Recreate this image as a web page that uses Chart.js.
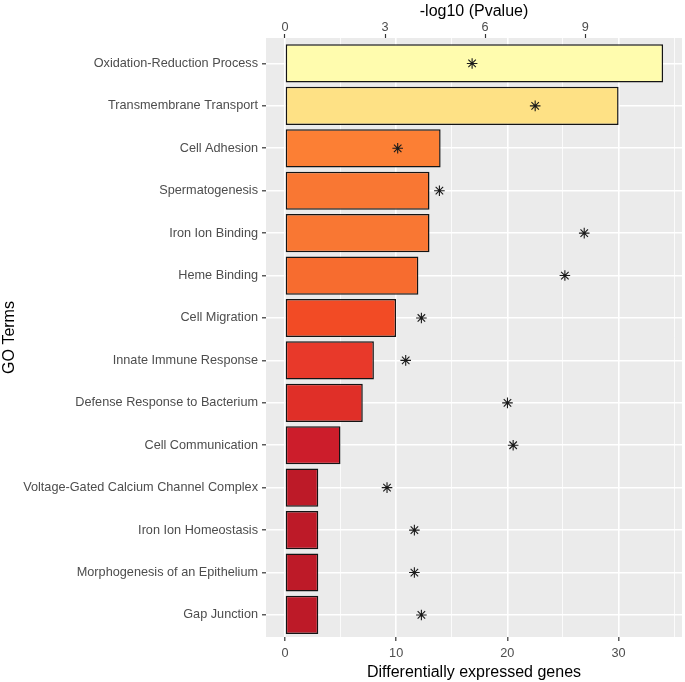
<!DOCTYPE html>
<html><head><meta charset="utf-8">
<script src="https://cdn.jsdelivr.net/npm/chart.js@4"></script>
<style>html,body{margin:0;padding:0;background:#fff}#wrap{width:685px;height:682px}</style>
</head><body><div id="wrap"><canvas id="c" width="685" height="682"></canvas></div>
<script>
const categories = [
  'Oxidation-Reduction Process',
  'Transmembrane Transport',
  'Cell Adhesion',
  'Spermatogenesis',
  'Iron Ion Binding',
  'Heme Binding',
  'Cell Migration',
  'Innate Immune Response',
  'Defense Response to Bacterium',
  'Cell Communication',
  'Voltage-Gated Calcium Channel Complex',
  'Iron Ion Homeostasis',
  'Morphogenesis of an Epithelium',
  'Gap Junction'
];
const genes = [34, 30, 14, 13, 13, 12, 10, 8, 7, 5, 3, 3, 3, 3];
const pvalues = [5.61, 7.50, 3.38, 4.63, 8.97, 8.39, 4.09, 3.62, 6.67, 6.84, 3.06, 3.88, 3.88, 4.09];
const barColors = ['#FFFCAE', '#FEE185', '#FC7F34', '#F97733', '#F97733', '#F76C2F', '#F24B25', '#E8392A', '#E02F28', '#CC1D2B', '#BD1A28', '#BD1A28', '#BD1A28', '#BD1A28'];
const geneTicks = [0, 10, 20, 30];
const geneMinorTicks = [5, 15, 25, 35];
const pTicks = [0, 3, 6, 9];
const geneMin = -1.7, geneMax = 35.7;
const pRatio = 3;
const catExpandTop = 0.6, catExpandBottom = 0.52;

Chart.defaults.font.family = "'Liberation Sans', Arial, sans-serif";

const panelBg = {
  id: 'panelBg',
  beforeDraw(chart) {
    const { ctx, chartArea: a } = chart;
    ctx.save();
    ctx.fillStyle = '#EBEBEB';
    ctx.fillRect(a.left, a.top, a.right - a.left, a.bottom - a.top);
    ctx.restore();
  }
};

const isMajor = v => geneTicks.includes(v);

new Chart(document.getElementById('c'), {
  data: {
    datasets: [
      {
        type: 'line',
        indexAxis: 'y',
        data: pvalues.map((p, i) => ({ x: p, y: i })),
        xAxisID: 'x2',
        yAxisID: 'y',
        showLine: false,
        pointStyle: 'star',
        pointRadius: 5.3,
        pointBorderColor: '#1a1a1a',
        pointBackgroundColor: '#1a1a1a',
        pointBorderWidth: 1.1,
        order: 0
      },
      {
        type: 'bar',
        indexAxis: 'y',
        data: genes.map((g, i) => ({ x: g, y: i })),
        xAxisID: 'x',
        yAxisID: 'y',
        backgroundColor: barColors,
        borderColor: '#141414',
        borderWidth: 1.5,
        borderSkipped: false,
        barPercentage: 0.9,
        categoryPercentage: 1,
        order: 1
      }
    ]
  },
  options: {
    indexAxis: 'y',
    responsive: false,
    animation: false,
    devicePixelRatio: 1,
    layout: { autoPadding: false, padding: { left: 0, right: 3, top: 0, bottom: 0 } },
    plugins: { legend: { display: false }, tooltip: { enabled: false } },
    scales: {
      x: {
        type: 'linear',
        position: 'bottom',
        min: geneMin,
        max: geneMax,
        afterBuildTicks(s) {
          s.ticks = [...geneTicks, ...geneMinorTicks].sort((a, b) => a - b).map(v => ({ value: v }));
        },
        ticks: {
          callback: v => isMajor(v) ? String(v) : '',
          color: '#4D4D4D',
          font: { size: 12.7 },
          padding: 5,
          maxRotation: 0,
          autoSkip: false
        },
        grid: {
          color: '#FFFFFF',
          lineWidth: c => (c.tick && isMajor(c.tick.value)) ? 1.6 : 0.8,
          tickColor: c => (c.tick && isMajor(c.tick.value)) ? '#333333' : 'rgba(0,0,0,0)',
          tickWidth: 1.2,
          tickLength: 4,
          drawTicks: true
        },
        border: { display: false },
        title: { display: true, text: 'Differentially expressed genes', color: '#000', font: { size: 16 }, padding: { top: 0, bottom: 0 } },
        afterFit(s) { s.height = 45; }
      },
      x2: {
        type: 'linear',
        position: 'top',
        min: geneMin / pRatio,
        max: geneMax / pRatio,
        afterBuildTicks(s) { s.ticks = pTicks.map(v => ({ value: v })); },
        ticks: { color: '#4D4D4D', font: { size: 12.7 }, padding: -1, maxRotation: 0, autoSkip: false },
        grid: { drawOnChartArea: false, tickLength: 4, tickColor: '#333333', tickWidth: 1.2 },
        border: { display: false },
        title: { display: true, text: '-log10 (Pvalue)', color: '#000', font: { size: 16 }, padding: { top: 1.5, bottom: 0 } },
        afterFit(s) { s.height = 38; }
      },
      y: {
        type: 'linear',
        position: 'left',
        reverse: true,
        offset: false,
        min: -catExpandTop,
        max: categories.length - 1 + catExpandBottom,
        afterBuildTicks(s) { s.ticks = categories.map((_, i) => ({ value: i })); },
        ticks: { callback: v => categories[v] ?? '', color: '#4D4D4D', font: { size: 12.7 }, padding: 4, autoSkip: false },
        grid: { offset: false, color: '#FFFFFF', lineWidth: 1.6, tickLength: 4, tickColor: '#333333', tickWidth: 1.2 },
        border: { display: false },
        title: { display: true, text: 'GO Terms', color: '#000', font: { size: 16 }, padding: { top: 0, bottom: 0 } },
        afterFit(s) { s.width = 266; }
      }
    }
  },
  plugins: [panelBg]
});
</script>
</body></html>
